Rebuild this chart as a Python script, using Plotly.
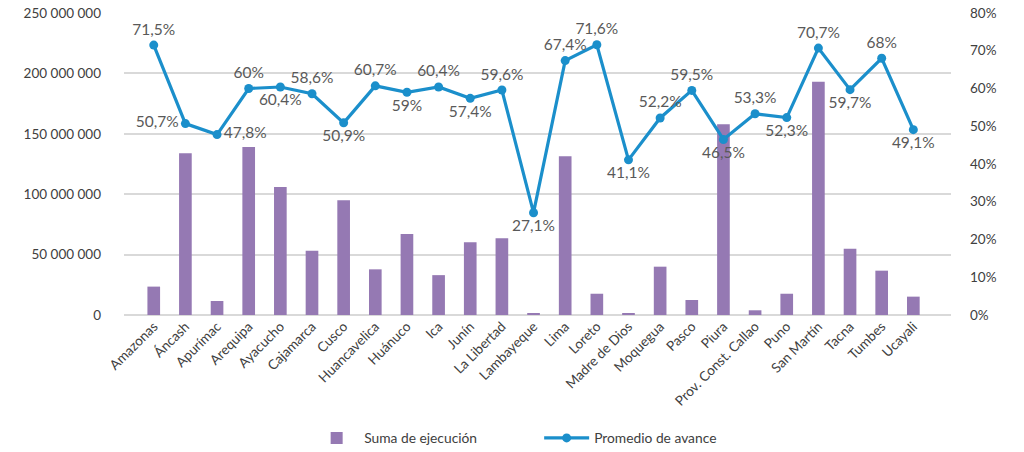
import plotly.graph_objects as go

# Regional execution totals (soles) and average progress (%)
regiones = [
    "Amazonas", "Áncash", "Apurímac", "Arequipa", "Ayacucho", "Cajamarca", "Cusco",
    "Huancavelica", "Huánuco", "Ica", "Junín", "La Libertad", "Lambayeque", "Lima",
    "Loreto", "Madre de Dios", "Moquegua", "Pasco", "Piura", "Prov. Const. Callao",
    "Puno", "San Martín", "Tacna", "Tumbes", "Ucayali",
]
suma_ejecucion = [
    23_500_000, 133_800_000, 11_600_000, 139_000_000, 106_000_000, 53_200_000, 95_000_000,
    37_800_000, 67_000_000, 33_000_000, 60_200_000, 63_500_000, 1_400_000, 131_400_000,
    17_600_000, 1_200_000, 40_000_000, 12_400_000, 158_000_000, 3_900_000,
    17_600_000, 193_000_000, 54_900_000, 36_700_000, 15_200_000,
]
promedio_avance = [
    71.5, 50.7, 47.8, 60, 60.4, 58.6, 50.9,
    60.7, 59, 60.4, 57.4, 59.6, 27.1, 67.4,
    71.6, 41.1, 52.2, 59.5, 46.5, 53.3,
    52.3, 70.7, 59.7, 68, 49.1,
]
posicion_etiqueta = [
    "top center", "middle left", "middle right", "top center", "bottom center", "top center", "bottom center",
    "top center", "bottom center", "top center", "bottom center", "top center", "bottom center", "top center",
    "top center", "bottom center", "top center", "top center", "bottom center", "top center",
    "bottom center", "top center", "bottom center", "top center", "bottom center",
]

etiquetas = [f"{v:g}".replace(".", ",") + "%" for v in promedio_avance]

FONT = "Lato, 'Open Sans', sans-serif"
GRID = "#d9d9d9"
TXT = "#404040"

fig = go.Figure()
fig.add_trace(go.Bar(
    x=regiones, y=suma_ejecucion, name="Suma de ejecución",
    marker=dict(color="#9579b3", line=dict(width=0)),
    width=0.4,
))
fig.add_trace(go.Scatter(
    x=regiones, y=promedio_avance, name="Promedio de avance", yaxis="y2",
    mode="lines+markers+text",
    line=dict(color="#1b8fcb", width=3.2),
    marker=dict(color="#1b8fcb", size=9),
    text=etiquetas, textposition=posicion_etiqueta,
    textfont=dict(family=FONT, size=15.5, color="#595959"),
    cliponaxis=False,
))

fig.update_layout(
    width=1024, height=452,
    margin=dict(l=124, r=73, t=13, b=137, autoexpand=False),
    paper_bgcolor="white", plot_bgcolor="white",
    separators=", ",
    font=dict(family=FONT, size=13, color=TXT),
    xaxis=dict(
        range=[-0.94, 25.19], tickangle=-45, showgrid=False, automargin=False,
        tickfont=dict(size=13.6, color=TXT), ticks="", showline=False,
    ),
    yaxis=dict(
        range=[0, 250_000_000], dtick=50_000_000, tickformat=",d", automargin=False,
        showgrid=True, gridcolor=GRID, gridwidth=1.5, zeroline=True,
        zerolinecolor=GRID, zerolinewidth=1.5, ticks="", ticklabelstandoff=22,
        tickfont=dict(size=13.5, color=TXT),
    ),
    yaxis2=dict(
        range=[0, 80], dtick=10, ticksuffix="%", overlaying="y", side="right",
        showgrid=False, zeroline=False, ticks="", ticklabelstandoff=18, automargin=False,
        tickfont=dict(size=13.5, color=TXT),
    ),
    legend=dict(
        orientation="h", x=0.502, xanchor="center", y=-0.407, yanchor="middle",
        font=dict(size=13.8, color=TXT), entrywidth=170, itemwidth=45,
    ),
    showlegend=True,
)

fig.write_html("out.html")
